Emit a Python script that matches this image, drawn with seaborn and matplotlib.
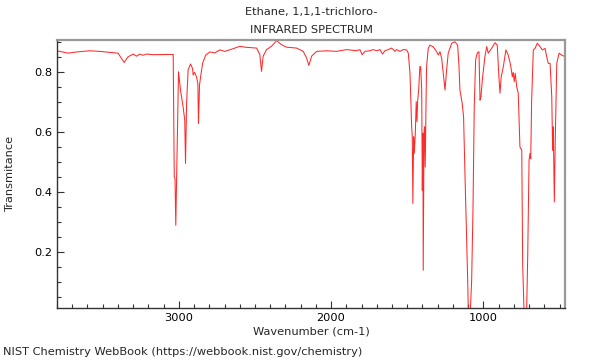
import matplotlib
matplotlib.use("Agg")
import matplotlib.pyplot as plt
import seaborn as sns
import pandas as pd
from matplotlib.ticker import MultipleLocator, FixedLocator

title_name = "Ethane, 1,1,1-trichloro-"
title_kind = "INFRARED SPECTRUM"
x_label = "Wavenumber (cm-1)"
y_label = "Transmitance"
footer = "NIST Chemistry WebBook (https://webbook.nist.gov/chemistry)"

wavenumber = [
    3800, 3727, 3672, 3585, 3519, 3399, 3359, 3333, 3300, 3278, 3256, 3235, 3212, 3169,
    3037, 3030, 3025, 3020, 3002, 2989, 2972, 2961, 2956, 2949, 2939, 2923, 2910, 2906,
    2897, 2884, 2875, 2871, 2864, 2857, 2844, 2823, 2796, 2763, 2731, 2698, 2643, 2599,
    2566, 2489, 2468, 2457, 2446, 2424, 2391, 2358, 2325, 2292, 2227, 2183, 2161, 2146,
    2128, 2095, 2030, 1964, 1898, 1832, 1811, 1796, 1778, 1745, 1723, 1701, 1679, 1662,
    1647, 1625, 1603, 1592, 1581, 1570, 1548, 1526, 1504, 1493, 1482, 1471, 1467, 1463,
    1458, 1454, 1447, 1441, 1436, 1432, 1425, 1417, 1412, 1405, 1401, 1397, 1395, 1390,
    1386, 1382, 1377, 1373, 1362, 1351, 1329, 1307, 1296, 1285, 1274, 1252, 1241, 1231,
    1208, 1187, 1169, 1160, 1154, 1139, 1130, 1121, 1110, 1103, 1099, 1086, 1077, 1068,
    1060, 1051, 1044, 1038, 1029, 1022, 1016, 1007, 990, 978, 968, 946, 924, 909,
    898, 891, 883, 869, 852, 837, 821, 810, 804, 797, 791, 781, 771, 760,
    748, 742, 733, 716, 709, 700, 694, 689, 683, 672, 661, 646, 628, 613,
    595, 584, 574, 562, 551, 545, 541, 534, 528, 518, 503, 486, 464,
]
transmittance = [
    0.872, 0.864, 0.868, 0.872, 0.870, 0.864, 0.833, 0.852, 0.861, 0.854, 0.861, 0.857, 0.861, 0.859,
    0.860, 0.451, 0.445, 0.289, 0.802, 0.741, 0.685, 0.640, 0.496, 0.697, 0.808, 0.828, 0.813, 0.791,
    0.800, 0.785, 0.763, 0.629, 0.758, 0.785, 0.830, 0.858, 0.868, 0.865, 0.875, 0.870, 0.879, 0.887,
    0.884, 0.881, 0.859, 0.803, 0.854, 0.876, 0.887, 0.906, 0.892, 0.884, 0.881, 0.870, 0.848, 0.823,
    0.854, 0.870, 0.872, 0.870, 0.876, 0.872, 0.876, 0.859, 0.870, 0.872, 0.876, 0.872, 0.876, 0.861,
    0.872, 0.876, 0.881, 0.876, 0.870, 0.876, 0.870, 0.876, 0.875, 0.864, 0.797, 0.618, 0.585, 0.362,
    0.585, 0.529, 0.596, 0.702, 0.635, 0.702, 0.741, 0.819, 0.819, 0.741, 0.406, 0.596, 0.139, 0.596,
    0.618, 0.484, 0.685, 0.819, 0.880, 0.891, 0.885, 0.869, 0.858, 0.869, 0.847, 0.741, 0.810, 0.864,
    0.897, 0.902, 0.891, 0.819, 0.741, 0.696, 0.651, 0.462, 0.239, 0.105, 0.000, 0.000, 0.105, 0.350,
    0.685, 0.841, 0.858, 0.866, 0.869, 0.707, 0.718, 0.774, 0.852, 0.886, 0.864, 0.880, 0.899, 0.891,
    0.785, 0.730, 0.785, 0.819, 0.875, 0.858, 0.824, 0.785, 0.800, 0.769, 0.797, 0.752, 0.730, 0.551,
    0.540, 0.161, 0.000, 0.000, 0.183, 0.507, 0.529, 0.512, 0.707, 0.875, 0.880, 0.897, 0.886, 0.875,
    0.880, 0.852, 0.830, 0.830, 0.718, 0.540, 0.618, 0.367, 0.574, 0.830, 0.864, 0.858, 0.852,
]

x_major = [3000, 2000, 1000]
y_major = [0.2, 0.4, 0.6, 0.8]

df = pd.DataFrame({"wn": wavenumber, "T": transmittance})

sns.set_style("white")
plt.rcParams["font.family"] = ["DejaVu Sans"]
fs = 8.2

fig = plt.figure(figsize=(6, 3.6), dpi=100)
ax = fig.add_axes([57 / 600, 1 - 308 / 360, (565 - 57) / 600, (308 - 40) / 360])
sns.lineplot(data=df, x="wn", y="T", ax=ax, color="#ff2a2a", linewidth=0.75,
             estimator=None, sort=True)

ax.set_xlim(3800, 464)
ax.set_ylim(0.013, 0.908)
ax.xaxis.set_major_locator(FixedLocator(x_major))
ax.xaxis.set_minor_locator(MultipleLocator(100))
ax.yaxis.set_major_locator(FixedLocator(y_major))
ax.yaxis.set_minor_locator(MultipleLocator(0.05))
ax.set_xticklabels([str(v) for v in x_major])
ax.set_yticklabels([f"{v:.1f}" for v in y_major])
ax.tick_params(axis="both", which="both", direction="in", labelsize=fs, colors="#333333",
               labelcolor="black")
ax.tick_params(which="major", length=5, width=0.8)
ax.tick_params(which="minor", length=3, width=0.8)
ax.tick_params(axis="x", which="both", bottom=True, top=False)
ax.tick_params(axis="y", which="both", left=True, right=False)

for side in ("top", "right"):
    ax.spines[side].set_color("#999999")
    ax.spines[side].set_linewidth(1.6)
for side in ("left", "bottom"):
    ax.spines[side].set_color("#333333")
    ax.spines[side].set_linewidth(1.0)

ax.set_xlabel("")
ax.set_ylabel("")
fig.text(311 / 600, 1 - 332 / 360, x_label, ha="center", va="center", fontsize=fs)
fig.text(10 / 600, 1 - 174 / 360, y_label, ha="center", va="center", rotation=90, fontsize=fs)
fig.text(311 / 600, 1 - 12 / 360, title_name, ha="center", va="center", fontsize=fs)
fig.text(311 / 600, 1 - 30 / 360, title_kind, ha="center", va="center", fontsize=fs)
fig.text(3 / 600, 1 - 352 / 360, footer, ha="left", va="center", fontsize=fs)

fig.savefig("out.png", dpi=100)
